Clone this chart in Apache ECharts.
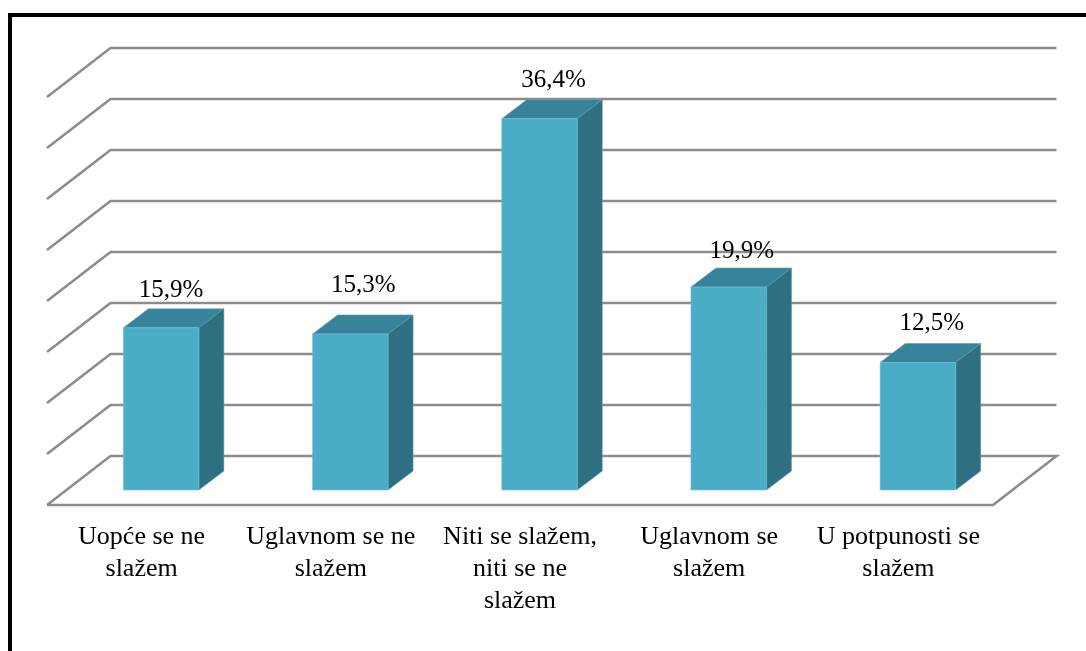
<!DOCTYPE html>
<html>
<head>
<meta charset="utf-8">
<title>chart</title>
<script src="https://cdn.jsdelivr.net/npm/echarts@6/dist/echarts.min.js"></script>
<style>
  html, body { margin: 0; padding: 0; background: #fff; overflow: hidden; }
  #frame { position: absolute; left: 8px; top: 13px; width: 1078px; height: 638px; box-sizing: border-box; border-left: 4px solid #000; border-top: 4px solid #000; }
  #main { position: absolute; left: 0; top: 0; width: 1086px; height: 651px; }
</style>
</head>
<body>
<div id="frame"></div>
<div id="main"></div>
<script>
const categories = [
  'Uopće se ne\nslažem',
  'Uglavnom se ne\nslažem',
  'Niti se slažem,\nniti se ne\nslažem',
  'Uglavnom se\nslažem',
  'U potpunosti se\nslažem'
]
const values = [15.9, 15.3, 36.4, 19.9, 12.5]
const labels = ['15,9%', '15,3%', '36,4%', '19,9%', '12,5%']
const gridTicks = [0, 5, 10, 15, 20, 25, 30, 35, 40]

// fake 3d: how far the back wall sits from the front plane, in pixels
const wallDx = 63.5
const wallDy = -49
// bars stand in the middle of the floor
const barDx = 19.5
const barDy = -15
const barDepthX = 25
const barDepthY = -19
const barWidth = 75.5
const lineColor = '#8c8c8c'
const serif = '"Liberation Serif", "Times New Roman", serif'
// data labels were moved by hand in the original
const labelShiftX = [10, 13, 14, 13, 14]
const labelShiftY = [-37, -49, -38, -36, -39]

let myChart = echarts.init(document.getElementById('main'), null, { renderer: 'canvas' })

function renderWall(params, api) {
  let box = params.coordSys
  let y = api.coord([0, api.value(1)])[1]
  let left = box.x
  let right = box.x + box.width
  let points = [[left, y], [left + wallDx, y + wallDy], [right + wallDx, y + wallDy]]
  // the zero line closes the floor
  if (api.value(1) === 0) {
    points.push([right, y])
    points.push([left, y])
  }
  return {
    type: 'polyline',
    shape: { points: points },
    style: { fill: null, stroke: lineColor, lineWidth: 2.6 }
  }
}

function renderBar(params, api) {
  let index = api.value(0)
  let center = api.coord([index, 0])[0] + barDx
  let yBase = api.coord([index, 0])[1] + barDy
  let yTop = api.coord([index, api.value(1)])[1] + barDy
  let x0 = center - barWidth / 2
  let x1 = center + barWidth / 2
  return {
    type: 'group',
    children: [
      {
        type: 'polygon',
        shape: { points: [[x0, yTop], [x0 + barDepthX, yTop + barDepthY], [x1 + barDepthX, yTop + barDepthY], [x1, yTop]] },
        style: { fill: '#37839a', stroke: '#5fa6ba', lineWidth: 0.6 }
      },
      {
        type: 'polygon',
        shape: { points: [[x1, yTop], [x1 + barDepthX, yTop + barDepthY], [x1 + barDepthX, yBase + barDepthY], [x1, yBase]] },
        style: { fill: '#2f6f82', stroke: '#5d99aa', lineWidth: 0.6 }
      },
      {
        type: 'rect',
        shape: { x: x0, y: yTop, width: barWidth, height: yBase - yTop },
        style: { fill: '#4bacc6', stroke: '#74c2d6', lineWidth: 0.6 }
      },
      {
        type: 'text',
        style: {
          text: labels[index],
          x: center + labelShiftX[index],
          y: yTop + labelShiftY[index],
          align: 'center',
          verticalAlign: 'middle',
          fontFamily: serif,
          fontSize: 25,
          fill: '#000'
        }
      }
    ]
  }
}

myChart.setOption({
  animation: false,
  grid: { left: 47, top: 97, width: 946, height: 408 },
  xAxis: {
    type: 'category',
    data: categories,
    axisLine: { show: false },
    axisTick: { show: false },
    axisLabel: {
      interval: 0,
      margin: 16,
      fontFamily: serif,
      fontSize: 26,
      lineHeight: 32,
      color: '#000'
    }
  },
  yAxis: {
    type: 'value',
    min: 0,
    max: 40,
    interval: 5,
    show: false
  },
  series: [
    {
      type: 'custom',
      renderItem: renderWall,
      data: gridTicks.map(v => [0, v]),
      clip: false,
      silent: true,
      z: 1
    },
    {
      type: 'custom',
      renderItem: renderBar,
      data: values.map((v, i) => [i, v]),
      clip: false,
      z: 2
    }
  ]
})
</script>
</body>
</html>
